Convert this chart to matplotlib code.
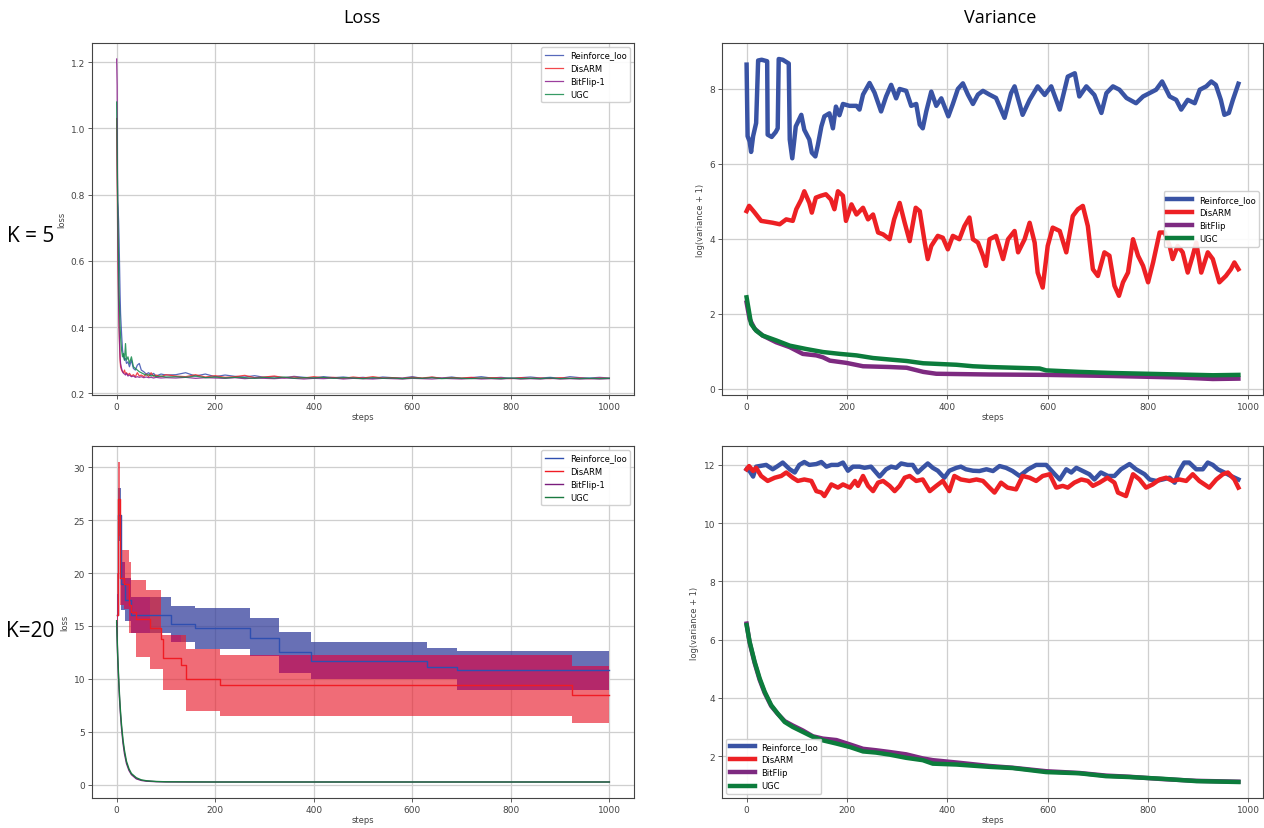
import numpy as np
import matplotlib
matplotlib.use("Agg")
import matplotlib.pyplot as plt

# ---------------- data ----------------
methods_loss = ["Reinforce_loo", "DisARM", "BitFlip-1", "UGC"]
methods_var = ["Reinforce_loo", "DisARM", "BitFlip", "UGC"]

# Loss, K = 5
loss5_steps_early = [0, 1, 2, 3, 4, 5, 6, 7, 8, 10, 12, 14, 16, 18, 20, 23, 26, 30, 34, 38,
                     42, 46, 50, 55, 60, 65, 70, 75, 80, 90, 100]
loss5_steps_late = list(range(120, 1001, 20))
loss5_reinforce = [1.03, 0.92, 0.78, 0.76, 0.72, 0.66, 0.58, 0.50, 0.44, 0.38, 0.33, 0.31, 0.30, 0.305,
                   0.29, 0.295, 0.28, 0.30, 0.275, 0.27, 0.285, 0.29, 0.27, 0.265, 0.258, 0.262, 0.255,
                   0.26, 0.252, 0.258, 0.255,
                   0.256, 0.262, 0.252, 0.258, 0.250, 0.255, 0.251, 0.249, 0.253, 0.248,
                   0.250, 0.247, 0.251, 0.248, 0.246, 0.250, 0.247, 0.249, 0.246, 0.248,
                   0.245, 0.249, 0.247, 0.246, 0.250, 0.245, 0.248, 0.246, 0.249, 0.245,
                   0.247, 0.250, 0.246, 0.248, 0.245, 0.247, 0.249, 0.246, 0.248, 0.245,
                   0.250, 0.247, 0.246, 0.248, 0.246]
loss5_disarm = [1.03, 0.85, 0.70, 0.58, 0.48, 0.40, 0.34, 0.30, 0.28, 0.27, 0.265, 0.262, 0.27, 0.258,
                0.262, 0.255, 0.26, 0.252, 0.256, 0.25, 0.262, 0.252, 0.255, 0.25, 0.258, 0.25, 0.262,
                0.251, 0.255, 0.25, 0.256,
                0.252, 0.250, 0.256, 0.249, 0.253, 0.248, 0.250, 0.254, 0.247, 0.249,
                0.252, 0.247, 0.249, 0.246, 0.250, 0.247, 0.248, 0.245, 0.249, 0.246,
                0.250, 0.246, 0.247, 0.245, 0.248, 0.246, 0.249, 0.245, 0.247, 0.246,
                0.248, 0.245, 0.247, 0.246, 0.244, 0.247, 0.245, 0.246, 0.244, 0.247,
                0.245, 0.246, 0.244, 0.246, 0.245]
loss5_bitflip = [1.21, 1.13, 0.80, 0.60, 0.47, 0.40, 0.35, 0.31, 0.29, 0.275, 0.265, 0.26, 0.258, 0.255,
                 0.26, 0.252, 0.255, 0.25, 0.252, 0.248, 0.25, 0.248, 0.25, 0.247, 0.249, 0.247, 0.248,
                 0.246, 0.248, 0.246, 0.247,
                 0.246, 0.248, 0.245, 0.247, 0.246, 0.245, 0.247, 0.244, 0.246, 0.245,
                 0.244, 0.246, 0.245, 0.243, 0.245, 0.244, 0.246, 0.243, 0.245, 0.244,
                 0.243, 0.245, 0.244, 0.243, 0.245, 0.244, 0.243, 0.245, 0.244, 0.243,
                 0.245, 0.243, 0.244, 0.243, 0.245, 0.243, 0.244, 0.243, 0.245, 0.243,
                 0.244, 0.243, 0.244, 0.243, 0.244]
loss5_ugc = [1.08, 0.95, 0.80, 0.68, 0.58, 0.50, 0.45, 0.40, 0.37, 0.33, 0.31, 0.32, 0.30, 0.35,
             0.30, 0.31, 0.29, 0.31, 0.28, 0.275, 0.27, 0.265, 0.262, 0.258, 0.255, 0.256, 0.252,
             0.254, 0.25, 0.252, 0.249,
             0.250, 0.248, 0.252, 0.247, 0.249, 0.246, 0.248, 0.247, 0.245, 0.248,
             0.246, 0.249, 0.245, 0.247, 0.246, 0.248, 0.245, 0.247, 0.246, 0.244,
             0.247, 0.245, 0.246, 0.244, 0.246, 0.245, 0.247, 0.244, 0.246, 0.245,
             0.244, 0.246, 0.245, 0.244, 0.246, 0.244, 0.245, 0.244, 0.246, 0.244,
             0.245, 0.244, 0.245, 0.244, 0.245]

# Loss, K = 20 (step-wise mean and band)
reinf20_steps = [0, 2, 8, 16, 30, 110, 160, 270, 330, 395, 630, 690, 1000]
reinf20_mean = [16.0, 25.5, 19.0, 17.5, 16.0, 15.2, 14.8, 13.9, 12.5, 11.7, 11.1, 10.8, 10.8]
reinf20_upper = [18.0, 28.0, 21.0, 19.5, 17.7, 16.9, 16.7, 15.8, 14.4, 13.5, 12.9, 12.65, 12.65]
reinf20_lower = [14.0, 23.0, 16.5, 15.5, 14.3, 13.5, 12.8, 12.2, 10.6, 10.0, 10.0, 8.9, 8.9]

disarm20_steps = [0, 2, 6, 15, 25, 30, 40, 60, 67, 90, 95, 131, 141, 145, 210, 925, 1000]
disarm20_mean = [16.0, 27.0, 19.5, 19.0, 17.0, 16.3, 15.7, 15.7, 14.8, 13.8, 12.0, 11.3, 10.0, 10.0,
                 9.4, 8.5, 8.5]
disarm20_upper = [20.0, 30.5, 22.2, 22.2, 21.0, 19.3, 19.3, 18.4, 18.4, 14.1, 14.1, 14.1, 12.8, 12.8,
                  12.3, 11.25, 11.25]
disarm20_lower = [12.0, 23.5, 17.0, 16.6, 14.3, 14.3, 12.1, 12.1, 10.9, 10.9, 8.9, 8.9, 7.0, 7.0,
                  6.45, 5.85, 5.85]

fast20_steps = [0, 2, 4, 6, 8, 10, 13, 16, 20, 25, 30, 40, 50, 60, 80, 100, 150, 200, 300, 500, 1000]
bitflip20_loss = [15.3, 12.2, 9.9, 8.0, 6.5, 5.3, 3.9, 2.9, 2.0, 1.35, 0.95, 0.55, 0.40, 0.33, 0.28,
                  0.26, 0.25, 0.25, 0.25, 0.25, 0.25]
ugc20_loss = [15.5, 12.5, 10.2, 8.3, 6.8, 5.6, 4.2, 3.2, 2.2, 1.5, 1.05, 0.65, 0.45, 0.37, 0.30,
              0.27, 0.26, 0.25, 0.25, 0.25, 0.25]

# Variance, K = 5
reinf_var5_steps = [0, 2, 6, 9, 13, 19, 23, 30, 41, 42, 50, 58, 62, 64, 72, 84, 86, 91, 98, 109, 115,
                    125, 130, 137, 142, 149, 155, 165, 172, 178, 185, 192, 205, 219, 225, 232, 245,
                    255, 268, 278, 288, 298, 305, 318, 328, 338, 345, 351, 358, 368, 378, 388, 402,
                    411, 421, 431, 441, 451, 461, 471, 484, 497, 514, 527, 534, 550, 564, 580, 594,
                    607, 624, 640, 654, 663, 677, 693, 707, 717, 730, 743, 757, 776, 790, 803, 816,
                    828, 843, 856, 866, 879, 893, 903, 916, 926, 935, 945, 952, 961, 969, 980]
reinf_var5 = [8.65, 6.74, 6.6, 6.32, 6.74, 7.09, 8.76, 8.78, 8.74, 6.78, 6.72, 6.85, 6.95, 8.8, 8.78,
              8.68, 6.65, 6.15, 7.0, 7.31, 6.91, 6.65, 6.3, 6.2, 6.5, 7.0, 7.27, 7.35, 6.95, 7.53,
              7.3, 7.6, 7.55, 7.55, 7.45, 7.85, 8.16, 7.9, 7.4, 7.8, 8.11, 7.75, 8.0, 7.95, 7.55,
              7.6, 7.05, 6.95, 7.4, 7.93, 7.55, 7.75, 7.27, 7.6, 8.0, 8.15, 7.85, 7.6, 7.85, 7.95,
              7.85, 7.76, 7.23, 7.89, 8.07, 7.31, 7.71, 8.07, 7.84, 8.07, 7.45, 8.33, 8.42, 7.8,
              8.07, 7.84, 7.36, 7.89, 8.07, 7.98, 7.76, 7.62, 7.80, 7.89, 7.98, 8.2, 7.80, 7.71,
              7.45, 7.71, 7.62, 7.98, 8.07, 8.2, 8.11, 7.71, 7.31, 7.36, 7.71, 8.14]

disarm_var5_steps = [0, 5, 15, 29, 52, 66, 79, 92, 99, 109, 115, 125, 130, 138, 148, 158, 168, 175,
                     182, 192, 198, 209, 219, 232, 242, 252, 262, 272, 285, 294, 305, 315, 325, 337,
                     345, 355, 361, 368, 381, 391, 401, 411, 424, 434, 444, 451, 461, 471, 477, 484,
                     497, 511, 521, 534, 541, 554, 564, 574, 580, 590, 600, 610, 624, 637, 650, 660,
                     670, 680, 690, 700, 713, 723, 733, 742, 750, 760, 770, 780, 790, 800, 810, 823,
                     833, 843, 849, 859, 869, 879, 889, 896, 906, 919, 929, 942, 955, 965, 972, 980]
disarm_var5 = [4.74, 4.88, 4.72, 4.48, 4.43, 4.39, 4.52, 4.48, 4.79, 5.05, 5.27, 4.96, 4.70, 5.1,
               5.15, 5.19, 5.05, 4.79, 5.27, 5.15, 4.48, 4.92, 4.65, 4.83, 4.52, 4.65, 4.17, 4.12,
               3.99, 4.52, 4.96, 4.43, 3.94, 4.83, 4.74, 3.90, 3.46, 3.81, 4.08, 4.03, 3.72, 4.08,
               3.99, 4.34, 4.57, 3.99, 3.90, 3.55, 3.28, 3.99, 4.08, 3.46, 3.99, 4.21, 3.64, 3.99,
               4.43, 3.90, 3.10, 2.70, 3.81, 4.30, 4.21, 3.64, 4.61, 4.79, 4.88, 4.34, 3.19, 3.01,
               3.64, 3.55, 2.75, 2.48, 2.84, 3.10, 3.99, 3.55, 3.28, 2.84, 3.37, 4.17, 4.17, 3.81,
               3.46, 3.81, 3.64, 3.10, 3.55, 3.90, 3.10, 3.64, 3.46, 2.84, 3.01, 3.19, 3.37, 3.19]

bitflip_var5_steps = [0, 6, 16, 32, 59, 86, 112, 139, 152, 166, 199, 232, 285, 319, 352, 378, 484,
                      597, 730, 863, 929, 980]
bitflip_var5 = [2.30, 1.86, 1.60, 1.42, 1.24, 1.11, 0.93, 0.89, 0.84, 0.75, 0.69, 0.60, 0.58, 0.56,
                0.45, 0.40, 0.38, 0.37, 0.34, 0.30, 0.26, 0.27]
ugc_var5_steps = [0, 9, 19, 32, 59, 86, 119, 152, 186, 219, 252, 285, 319, 352, 385, 418, 451, 484,
                  584, 597, 663, 730, 796, 863, 929, 980]
ugc_var5 = [2.44, 1.73, 1.55, 1.42, 1.29, 1.15, 1.06, 0.98, 0.93, 0.89, 0.82, 0.78, 0.74, 0.68, 0.66,
            0.64, 0.60, 0.58, 0.54, 0.49, 0.45, 0.42, 0.40, 0.38, 0.36, 0.37]

# Variance, K = 20
reinf_var20_steps = [0, 6, 13, 19, 39, 52, 62, 72, 86, 96, 105, 115, 125, 139, 149, 159, 169, 182,
                     192, 202, 212, 225, 235, 248, 258, 265, 278, 288, 298, 308, 321, 331, 341, 351,
                     361, 371, 381, 394, 404, 418, 427, 437, 451, 464, 478, 491, 504, 517, 530, 544,
                     561, 577, 597, 614, 624, 637, 647, 657, 670, 683, 693, 706, 720, 733, 746, 763,
                     776, 793, 803, 816, 829, 843, 853, 862, 872, 882, 896, 909, 919, 929, 939, 952,
                     965, 980]
reinf_var20 = [11.85, 11.79, 11.6, 11.94, 12.0, 11.85, 11.96, 12.08, 11.85, 11.74, 12.0, 12.1, 12.0,
               12.03, 12.1, 11.94, 12.0, 12.0, 12.08, 11.8, 11.94, 11.94, 11.9, 11.94, 11.74, 11.6,
               11.85, 11.94, 11.9, 12.05, 12.0, 12.0, 11.74, 11.9, 12.05, 11.9, 11.8, 11.56, 11.8,
               11.9, 11.94, 11.85, 11.8, 11.79, 11.85, 11.79, 11.96, 11.9, 11.79, 11.62, 11.85,
               12.0, 12.0, 11.68, 11.5, 11.85, 11.74, 11.9, 11.79, 11.68, 11.5, 11.74, 11.62,
               11.62, 11.85, 12.03, 11.85, 11.68, 11.5, 11.45, 11.5, 11.56, 11.39, 11.79, 12.08,
               12.08, 11.85, 11.85, 12.08, 12.0, 11.85, 11.74, 11.62, 11.5]

disarm_var20_steps = [0, 5, 13, 19, 29, 42, 56, 69, 79, 92, 102, 115, 129, 139, 149, 155, 169, 182,
                      192, 206, 216, 222, 232, 242, 252, 262, 272, 285, 295, 305, 315, 325, 338, 351,
                      365, 378, 391, 404, 414, 427, 444, 458, 471, 484, 494, 507, 520, 537, 550, 564,
                      577, 590, 604, 617, 630, 640, 653, 667, 680, 690, 703, 719, 733, 740, 756, 770,
                      783, 796, 809, 823, 836, 849, 862, 876, 889, 902, 922, 936, 949, 959, 972, 980]
disarm_var20 = [11.85, 11.96, 11.79, 11.9, 11.62, 11.45, 11.56, 11.62, 11.74, 11.56, 11.45, 11.5,
                11.45, 11.1, 11.05, 10.93, 11.33, 11.22, 11.33, 11.22, 11.45, 11.28, 11.62, 11.28,
                11.1, 11.39, 11.45, 11.28, 11.1, 11.28, 11.56, 11.62, 11.45, 11.5, 11.1, 11.28,
                11.45, 11.1, 11.62, 11.5, 11.45, 11.5, 11.45, 11.22, 11.05, 11.39, 11.22, 11.16,
                11.62, 11.56, 11.45, 11.62, 11.68, 11.22, 11.28, 11.22, 11.39, 11.5, 11.45, 11.28,
                11.39, 11.56, 11.39, 11.05, 10.93, 11.68, 11.5, 11.22, 11.33, 11.5, 11.56, 11.45,
                11.5, 11.45, 11.68, 11.45, 11.22, 11.5, 11.68, 11.74, 11.5, 11.22]

smooth_var20_steps = [0, 6, 16, 26, 36, 49, 62, 76, 92, 112, 132, 152, 179, 206, 232, 258, 285, 318,
                      351, 371, 418, 451, 484, 530, 597, 663, 716, 763, 829, 896, 980]
bitflip_var20 = [6.55, 5.90, 5.20, 4.62, 4.17, 3.72, 3.45, 3.20, 3.05, 2.88, 2.68, 2.60, 2.55, 2.40,
                 2.25, 2.20, 2.14, 2.06, 1.92, 1.86, 1.78, 1.72, 1.66, 1.60, 1.48, 1.42, 1.33, 1.29,
                 1.21, 1.15, 1.12]
ugc_var20 = [6.50, 5.93, 5.24, 4.67, 4.21, 3.75, 3.46, 3.17, 3.00, 2.83, 2.66, 2.54, 2.43, 2.31,
             2.16, 2.12, 2.05, 1.94, 1.86, 1.74, 1.71, 1.67, 1.63, 1.59, 1.45, 1.41, 1.31, 1.28,
             1.22, 1.14, 1.11]

# ---------------- style ----------------
W, H = 1264, 829
fig = plt.figure(figsize=(W / 100, H / 100), dpi=100)

loss_colors = ["#3a4fb0", "#f0282c", "#8a1c8c", "#138a4a"]
var_colors = ["#3953a4", "#ed2024", "#7d2a80", "#0c7c3c"]
label_kw = dict(fontsize=6, color="#444444")


def make_ax(x0, y0, x1, y1):
    ax = fig.add_axes([x0 / W, 1 - y1 / H, (x1 - x0) / W, (y1 - y0) / H])
    ax.grid(True, color="#cfcfcf", linewidth=0.9)
    ax.set_axisbelow(True)
    for s in ax.spines.values():
        s.set_color("#444444")
        s.set_linewidth(0.8)
    ax.tick_params(labelsize=6.5, colors="#444444", length=3, width=0.6, pad=2)
    return ax


ax_tl = make_ax(92, 44, 634, 396)
ax_tr = make_ax(722, 44, 1263, 396)
ax_bl = make_ax(92, 447, 634, 799)
ax_br = make_ax(722, 447, 1263, 799)

# Loss K=5
x5 = loss5_steps_early + loss5_steps_late
for name, vals, c in zip(methods_loss, [loss5_reinforce, loss5_disarm, loss5_bitflip, loss5_ugc],
                         loss_colors):
    ax_tl.plot(x5, vals, color=c, linewidth=0.9, alpha=0.85, label=name)
ax_tl.set_ylabel("loss", labelpad=3, **label_kw)
ax_tl.set_xlabel("steps", labelpad=1, **label_kw)
ax_tl.legend(loc="upper right", fontsize=6, framealpha=0.9, edgecolor="#cccccc", handlelength=2.2)

# Loss K=20
ax_bl.fill_between(reinf20_steps, reinf20_lower, reinf20_upper, step="post",
                   color="#36409c", alpha=0.75, linewidth=0)
ax_bl.fill_between(disarm20_steps, disarm20_lower, disarm20_upper, step="post",
                   color="#e81e2e", alpha=0.65, linewidth=0)
# overlap of the two bands
ov_steps = np.union1d(reinf20_steps, disarm20_steps)
ri = np.searchsorted(reinf20_steps, ov_steps, side="right") - 1
di = np.searchsorted(disarm20_steps, ov_steps, side="right") - 1
ov_hi = np.minimum(np.array(reinf20_upper)[ri], np.array(disarm20_upper)[di])
ov_lo = np.maximum(np.array(reinf20_lower)[ri], np.array(disarm20_lower)[di])
ax_bl.fill_between(ov_steps, ov_lo, ov_hi, where=ov_hi > ov_lo, step="post",
                   color="#b4286a", linewidth=0, interpolate=False)
ax_bl.step(reinf20_steps, reinf20_mean, where="post", color="#2f4fb0", linewidth=1.0,
           label=methods_loss[0])
ax_bl.step(disarm20_steps, disarm20_mean, where="post", color="#f01c24", linewidth=1.0,
           label=methods_loss[1])
ax_bl.plot(fast20_steps, bitflip20_loss, color="#7a1c7c", linewidth=1.0, label=methods_loss[2])
ax_bl.plot(fast20_steps, ugc20_loss, color="#1a7a40", linewidth=1.0, label=methods_loss[3])
ax_bl.set_ylabel("loss", labelpad=3, **label_kw)
ax_bl.set_xlabel("steps", labelpad=1, **label_kw)
ax_bl.set_yticks([0, 5, 10, 15, 20, 25, 30])
ax_bl.legend(loc="upper right", fontsize=6, framealpha=0.9, edgecolor="#cccccc", handlelength=2.2)

# Variance K=5
ax_tr.plot(reinf_var5_steps, reinf_var5, color=var_colors[0], linewidth=3.2, label=methods_var[0])
ax_tr.plot(disarm_var5_steps, disarm_var5, color=var_colors[1], linewidth=3.2, label=methods_var[1])
ax_tr.plot(bitflip_var5_steps, bitflip_var5, color=var_colors[2], linewidth=3.2, label=methods_var[2])
ax_tr.plot(ugc_var5_steps, ugc_var5, color=var_colors[3], linewidth=3.2, label=methods_var[3])
ax_tr.set_ylabel("log(variance + 1)", labelpad=3, **label_kw)
ax_tr.set_xlabel("steps", labelpad=1, **label_kw)
ax_tr.legend(loc="center right", fontsize=6, framealpha=0.9, edgecolor="#cccccc", handlelength=3.0)

# Variance K=20
ax_br.plot(reinf_var20_steps, reinf_var20, color=var_colors[0], linewidth=3.2, label=methods_var[0])
ax_br.plot(disarm_var20_steps, disarm_var20, color=var_colors[1], linewidth=3.2, label=methods_var[1])
ax_br.plot(smooth_var20_steps, bitflip_var20, color=var_colors[2], linewidth=3.2, label=methods_var[2])
ax_br.plot(smooth_var20_steps, ugc_var20, color=var_colors[3], linewidth=3.2, label=methods_var[3])
ax_br.set_ylabel("log(variance + 1)", labelpad=3, **label_kw)
ax_br.set_xlabel("steps", labelpad=1, **label_kw)
ax_br.legend(loc="lower left", fontsize=6, framealpha=0.9, edgecolor="#cccccc", handlelength=3.0)

for ax in (ax_tl, ax_bl, ax_tr, ax_br):
    ax.set_xticks([0, 200, 400, 600, 800, 1000])
for ax in (ax_tr, ax_br):
    ax.set_xlim(-49, 1029)

# Column / row headers
head_font = ["Open Sans", "DejaVu Sans"]
fig.text(362 / W, 1 - 18 / H, "Loss", ha="center", va="center", fontsize=13, family=head_font)
fig.text(1000 / W, 1 - 18 / H, "Variance", ha="center", va="center", fontsize=13, family=head_font)
fig.text(31 / W, 1 - 236 / H, "K = 5", ha="center", va="center", fontsize=15, family=head_font)
fig.text(30 / W, 1 - 632 / H, "K=20", ha="center", va="center", fontsize=15, family=head_font)

fig.savefig("out.png", dpi=100)
